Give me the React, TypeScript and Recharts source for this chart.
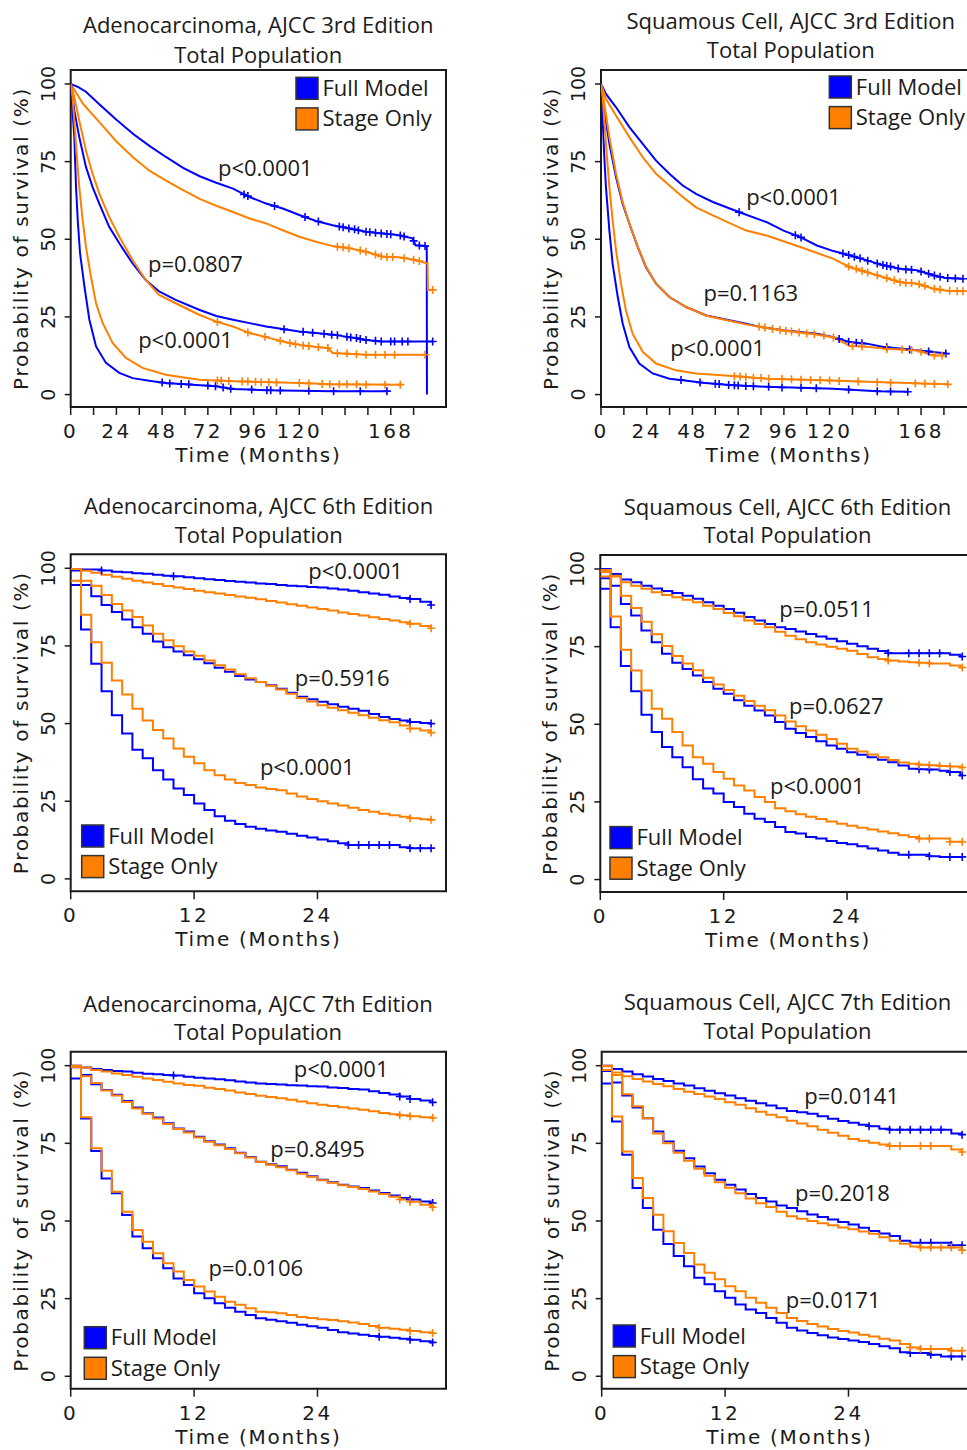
import React from 'react';
import { ComposedChart, Line, Scatter, XAxis, YAxis, ReferenceArea } from 'recharts';

const BLUE = '#0000ff';
const ORANGE = '#ff8000';
const INK = '#1a1a1a';
const TEXT_FONT = '"Open Sans", "Noto Sans", sans-serif';
const AXIS_FONT = '"DejaVu Sans", Verdana, sans-serif';
const TEXT_SIZE = 22;

const PLOT_W = 375.3;
const PLOT_H = 337;
const Y_AXIS_W = 50;
const X_AXIS_H = 60;
const Y_DOMAIN: [number, number] = [-4, 104.5];
const Y_TICKS = [0, 25, 50, 75, 100];
const LONG_TICKS = [0, 12, 24, 36, 48, 60, 72, 84, 96, 108, 120, 132, 144, 156, 168, 180];
const LONG_LABELS = [0, 24, 48, 72, 96, 120, 168];
const SHORT_TICKS = [0, 12, 24];

// ---- Adenocarcinoma, 3rd edition: [months, survival %]
const a3UpperFull = [[0, 100], [4, 99], [8, 97.5], [15, 93.5], [24, 88.5], [33, 83.8], [41.5, 80], [50, 76.5], [59, 73], [67.7, 70.3], [76.4, 68.2], [85.2, 66.3], [93.9, 63.6], [102.6, 61.5], [111.3, 59.9], [120, 57.8], [128.8, 55.9], [137.5, 54.5], [146.2, 53.5], [155, 52.4], [163.7, 51.9], [172.4, 51.3], [179.4, 50.3], [181, 48.1], [186.9, 47.8], [187, 0]];
const a3UpperStage = [[0, 100], [6.6, 93.5], [15.4, 87.5], [24, 81.5], [32.8, 76.3], [41.5, 72], [50.3, 68.8], [59, 65.8], [67.7, 63], [76.4, 60.8], [85.2, 58.8], [93.9, 56.7], [102.6, 55.1], [111.3, 52.9], [120, 50.8], [128.8, 49.2], [137.5, 47.8], [146.2, 47.1], [155, 46], [163.7, 44.4], [172.4, 44.2], [181.2, 43.3], [187.3, 42.2], [187.5, 33.7], [190, 33.7]];
const a3MiddleFull = [[0, 100], [0.3, 99.8], [1.9, 91.4], [4.5, 82.9], [8, 73.3], [11.5, 66.8], [15, 61.5], [20.2, 54], [25.5, 48.7], [32.5, 42.2], [39.4, 36.9], [46.4, 33.2], [55.1, 30.5], [67.4, 27.3], [76.4, 25.3], [85.2, 24.1], [93.9, 23], [102.6, 21.9], [111.3, 21.1], [120, 20.3], [128.8, 19.8], [137.5, 19.3], [146.2, 18.5], [155, 17.6], [163.7, 17.1], [190, 17.1]];
const a3MiddleStage = [[0, 100], [1.9, 95.7], [4.5, 88.2], [8, 78.6], [11.5, 71.1], [15, 64.7], [20.2, 57.2], [25.5, 50.8], [32.5, 43.3], [39.4, 36.9], [46.4, 32.1], [55.1, 29.4], [67.4, 25.7], [76.4, 23.5], [85.2, 21.9], [93.9, 19.8], [102.6, 18.5], [111.3, 17.1], [120, 16], [128.8, 15.3], [135, 15], [137.5, 13.4], [155, 12.8], [186.4, 12.8]];
const a3LowerFull = [[0, 100], [0.7, 93.6], [1.9, 82.9], [2.8, 66.8], [3.7, 56.1], [4.9, 45.5], [7.2, 34.8], [9.8, 24.1], [13.3, 15.5], [18.5, 10.2], [25.5, 7], [32.5, 5.3], [42.9, 4.3], [49.9, 3.7], [63.9, 3.2], [76, 2.7], [85.2, 1.8], [102.6, 1.4], [137.5, 1.1], [166.3, 1.1]];
const a3LowerStage = [[0, 100], [1, 95.7], [1.9, 88.2], [3.1, 77.5], [4.5, 66.8], [6.3, 56.1], [8, 47.6], [10.6, 38], [13.3, 29.4], [16.8, 23], [22, 16.6], [29, 11.8], [37.7, 8.6], [49.9, 6.4], [67.4, 4.8], [76, 4.5], [85.2, 4.3], [120, 3.7], [137.5, 3.3], [173.3, 3.2]];
const a3CensorFull = [[91, 64.4], [93, 63.9], [107, 60.7], [123, 57.2], [130, 55.7], [141, 54.1], [143, 53.9], [146, 53.5], [149, 53.2], [151, 52.9], [155, 52.4], [157, 52.3], [160, 52.1], [163, 51.9], [166, 51.7], [168, 51.6], [173, 51.2], [175, 50.9], [180, 49.5], [183, 48], [186, 47.8],
  [112, 21], [122, 20.2], [127, 19.9], [133, 19.6], [137, 19.3], [140, 19.1], [145, 18.6], [147, 18.4], [150, 18.2], [152, 17.9], [155, 17.6], [160, 17.3], [163, 17.1], [168, 17.1], [170, 17.1], [174, 17.1], [177, 17.1], [190, 17.1],
  [48, 3.9], [52, 3.6], [58, 3.4], [62, 3.3], [72, 2.9], [76, 2.7], [80, 2.3], [84, 1.9], [95, 1.6], [103, 1.4], [105, 1.4], [110, 1.3], [125, 1.2], [138, 1.1], [152, 1.1], [166, 1.1]];
const a3CensorStage = [[140, 47.6], [143, 47.4], [146, 47.1], [152, 46.4], [155, 46], [160, 45.1], [163, 44.5], [166, 44.3], [169, 44.3], [175, 43.9], [180, 43.4], [183, 43], [190, 33.7],
  [77, 23.4], [93, 20], [102, 18.6], [110, 17.3], [115, 16.6], [118, 16.2], [122, 15.8], [125, 15.6], [130, 15.2], [135, 15], [140, 13.3], [145, 13.2], [150, 13], [155, 12.8], [160, 12.8], [165, 12.8], [170, 12.8], [186, 12.8],
  [77, 4.5], [79, 4.5], [83, 4.4], [90, 4.2], [93, 4.2], [97, 4.1], [100, 4], [104, 4], [108, 3.9], [120, 3.7], [125, 3.6], [132, 3.4], [136, 3.3], [141, 3.3], [145, 3.3], [150, 3.3], [155, 3.2], [165, 3.2], [173, 3.2]];

// ---- Squamous cell, 3rd edition
const s3UpperFull = [[0, 100], [2.6, 96.8], [7.9, 92.5], [14.9, 86.1], [21.9, 80.7], [28.9, 75.3], [35.9, 71.1], [42.9, 67.3], [49.9, 64.6], [58.7, 62], [72.7, 58.7], [87, 55.5], [95.8, 52.8], [104.6, 50.7], [113.3, 48], [122, 46.2], [130.8, 44.8], [139.6, 43.2], [148.3, 41.6], [157, 40.5], [165.8, 40], [174.6, 38.4], [181, 37.5], [190.4, 37.3]];
const s3UpperStage = [[0, 100], [2.6, 95.2], [7.9, 89.8], [14.9, 82.9], [21.9, 76.4], [28.9, 71.1], [35.9, 67.3], [42.9, 63.6], [49.9, 60.3], [58.7, 57.7], [76.2, 52.8], [87, 51.2], [104.6, 47.5], [122, 43.7], [130.8, 41], [139.6, 39.4], [148.3, 37.8], [157, 36.2], [165.8, 35.7], [174.6, 34.1], [182, 33.4], [190.4, 33.3]];
const s3MiddleFull = [[0, 100], [1.75, 91.4], [4.4, 80.7], [7.9, 70], [11.4, 61.4], [14.9, 55], [19.3, 47.5], [23.6, 41], [28.9, 35.7], [35.9, 31.4], [44.7, 28.2], [55.2, 25.5], [67.4, 23.9], [76.2, 22.8], [83.5, 21.8], [95.8, 20.7], [113.3, 19.6], [122, 18.5], [130.8, 16.9], [139.6, 16.4], [148.3, 15.3], [157, 14.8], [165.8, 14.3], [181.6, 13.2]];
const s3MiddleStage = [[0, 100], [1.75, 93.6], [4.4, 82.9], [7.9, 71.1], [11.4, 61.9], [14.9, 55], [19.3, 47.5], [23.6, 41.2], [28.9, 35.7], [35.9, 31.4], [44.7, 28.2], [55.2, 25.4], [67.4, 23.8], [76.2, 22.6], [83.5, 21.8], [95.8, 20.6], [113.3, 19.3], [122, 18.4], [130.8, 15.6], [139.6, 15.4], [148.3, 14.8], [157, 14.5], [165.8, 14.2], [174.6, 12.6], [179.9, 12.6]];
const s3LowerFull = [[0, 100], [0.9, 88.2], [1.75, 76.4], [2.6, 66.8], [4.4, 52.8], [6.1, 42.1], [8.8, 31.4], [11.4, 22.8], [14.9, 15.3], [20.1, 10], [27.1, 6.8], [35.9, 5.1], [42.9, 4.6], [53.4, 3.8], [67.4, 3.1], [87, 2.5], [122, 1.9], [145, 1.1], [161.5, 0.9]];
const s3LowerStage = [[0, 100], [0.9, 95.7], [1.75, 88.2], [3, 77.5], [4.4, 66.8], [6.1, 56.1], [7.9, 46.4], [10.5, 35.7], [13.1, 27.1], [16.6, 19.6], [22, 13.7], [28.9, 10], [39.4, 7.8], [49.9, 6.8], [70.9, 5.9], [87, 5.1], [122, 4.5], [139.6, 4.1], [182.5, 3.3]];
const s3CensorFull = [[72.5, 58.7], [102, 51.3], [105, 50.6], [127, 45.4], [130, 44.9], [133, 44.4], [136, 43.9], [140, 43.1], [145, 42.2], [148, 41.7], [150, 41.4], [152, 41.2], [156, 40.6], [160, 40.3], [163, 40.2], [168, 39.6], [172, 38.9], [175, 38.3], [178, 37.9], [182, 37.5], [186, 37.4], [190, 37.3],
  [125, 17.9], [130, 17], [134, 16.7], [137, 16.5], [150, 15.2], [162, 14.5], [172, 13.9], [181, 13.2],
  [42, 4.7], [52, 3.9], [60, 3.5], [62, 3.4], [67, 3.1], [70, 3], [72, 2.9], [76, 2.8], [80, 2.7], [88, 2.5], [95, 2.3], [105, 2.2], [113, 2], [130, 1.6], [145, 1.1], [152, 1], [161, 0.9]];
const s3CensorStage = [[130, 41.2], [134, 40.5], [137, 39.9], [140, 39.3], [145, 38.4], [150, 37.5], [154, 36.8], [157, 36.2], [160, 36], [163, 35.9], [167, 35.5], [170, 35], [175, 34.1], [178, 33.8], [183, 33.4], [187, 33.3], [190, 33.3],
  [83, 21.9], [86, 21.6], [90, 21.2], [94, 20.8], [97, 20.5], [100, 20.3], [104, 20], [108, 19.7], [112, 19.4], [117, 19], [122, 18.4], [132, 15.6], [137, 15.5], [150, 14.7], [158, 14.5], [163, 14.3], [168, 13.8], [175, 12.6], [179, 12.6],
  [70, 5.9], [73, 5.8], [76, 5.6], [80, 5.4], [84, 5.3], [88, 5.1], [95, 5], [100, 4.9], [105, 4.8], [110, 4.7], [115, 4.6], [120, 4.5], [125, 4.4], [135, 4.2], [145, 4], [152, 3.8], [165, 3.6], [170, 3.5], [175, 3.4], [182, 3.3]];

// ---- 6th / 7th editions: survival at each month 0..35
const a6UpperFull = [99.8, 99.6, 99.6, 99.3, 98.9, 98.7, 98.4, 98.2, 97.9, 97.6, 97.4, 97.1, 96.8, 96.5, 96.2, 95.9, 95.7, 95.4, 95.1, 94.9, 94.6, 94.4, 94.2, 94.0, 93.8, 93.5, 93.2, 92.8, 92.3, 91.9, 91.5, 90.9, 90.4, 90.1, 89.2, 88.2];
const a6UpperStage = [99.8, 99.2, 98.6, 97.9, 97.3, 96.6, 96.0, 95.4, 94.9, 94.3, 93.8, 93.3, 92.8, 92.3, 91.9, 91.4, 90.9, 90.5, 90.0, 89.5, 89.0, 88.4, 87.9, 87.4, 86.9, 86.4, 85.8, 85.3, 84.8, 84.2, 83.7, 83.2, 82.6, 82.1, 81.4, 80.7];
const a6MiddleFull = [99.3, 94.6, 91.0, 88.2, 85.9, 83.5, 81.0, 78.9, 76.4, 74.6, 73.2, 72.0, 70.7, 69.4, 68.0, 66.7, 65.3, 64.2, 63.4, 62.3, 61.2, 59.9, 58.6, 57.8, 57.0, 56.2, 55.4, 54.8, 54.1, 53.1, 52.1, 51.5, 51.0, 50.5, 50.2, 50.0];
const a6MiddleStage = [99.8, 96.0, 94.4, 91.4, 88.5, 86.4, 84.3, 81.6, 78.9, 76.8, 74.9, 73.2, 71.8, 70.3, 68.8, 67.4, 65.9, 64.6, 63.4, 62.2, 61.0, 59.6, 58.2, 57.1, 55.9, 55.1, 54.3, 53.5, 52.7, 51.9, 51.1, 50.4, 49.4, 48.4, 47.8, 47.1];
const a6LowerFull = [94.6, 80.3, 69.3, 60.4, 52.7, 46.8, 41.6, 38.8, 35.0, 32.0, 29.1, 27.0, 24.3, 22.2, 20.2, 18.7, 17.7, 16.8, 16.1, 15.6, 15.2, 14.5, 13.9, 13.3, 12.7, 12.1, 11.5, 10.9, 10.9, 10.9, 10.9, 10.9, 10.2, 9.9, 9.9, 9.9];
const a6LowerStage = [96.0, 85.0, 76.2, 69.6, 63.9, 59.4, 54.8, 51.0, 47.9, 45.2, 42.0, 39.3, 37.2, 35.0, 33.4, 32.0, 30.9, 30.2, 29.4, 28.9, 28.5, 27.5, 26.5, 25.7, 25.0, 24.3, 23.6, 22.9, 22.2, 21.6, 21.0, 20.5, 20.0, 19.5, 19.2, 19.0];

const s6UpperFull = [100, 98.4, 96.6, 95.7, 94.6, 93.7, 92.9, 92.3, 91.4, 90.4, 89.3, 88.2, 87.1, 85.9, 84.5, 83.4, 82.3, 81.2, 80.7, 79.9, 79.1, 78.3, 77.5, 76.7, 75.9, 75.1, 74.3, 73.6, 72.9, 72.9, 72.9, 72.9, 72.9, 72.9, 72.4, 71.8];
const s6UpperStage = [99.7, 97.8, 95.7, 94.6, 93.6, 92.5, 91.6, 90.9, 90.1, 89.3, 88.2, 87.1, 85.8, 84.8, 83.4, 82.3, 81.2, 79.8, 78.5, 77.4, 76.4, 75.7, 75.0, 74.3, 73.7, 72.6, 71.6, 71.0, 70.5, 70.2, 70.0, 69.8, 69.6, 69.6, 68.9, 68.3];
const s6MiddleFull = [97.0, 94.6, 88.7, 85.0, 80.2, 76.4, 72.7, 69.8, 67.8, 65.7, 63.6, 61.4, 59.8, 57.7, 56.0, 54.4, 52.8, 50.7, 48.6, 47.2, 45.9, 44.5, 43.2, 42.1, 41.0, 40.2, 39.4, 38.6, 37.8, 36.7, 35.7, 35.5, 35.4, 35.0, 34.6, 33.5];
const s6MiddleStage = [99.0, 97.6, 91.4, 87.4, 83.0, 79.0, 75.2, 72.0, 69.6, 67.4, 65.0, 62.8, 61.0, 59.2, 57.5, 56.0, 54.5, 52.8, 50.9, 49.4, 48.0, 46.6, 45.3, 43.7, 42.1, 41.2, 40.3, 39.4, 38.5, 37.7, 37.3, 37.0, 36.8, 36.6, 36.4, 36.1];
const s6LowerFull = [93.6, 81.2, 68.8, 60.6, 53.1, 47.5, 42.7, 39.4, 36.2, 32.3, 29.3, 27.7, 25.0, 23.4, 21.2, 19.6, 18.5, 16.9, 15.3, 14.8, 13.7, 13.2, 12.4, 11.8, 11.4, 10.7, 10.0, 9.4, 8.6, 8.0, 8.0, 8.0, 7.5, 7.3, 7.3, 7.3];
const s6LowerStage = [97.6, 84.7, 74.0, 67.3, 60.9, 55.0, 51.8, 47.5, 43.2, 39.4, 37.3, 34.6, 32.5, 30.3, 28.7, 26.6, 25.0, 23.0, 22.0, 21.0, 20.2, 19.5, 18.7, 18.0, 17.3, 16.7, 16.1, 15.5, 14.9, 14.3, 13.7, 13.2, 13.2, 13.2, 12.2, 12.2];

const a7UpperFull = [100, 99.4, 98.9, 98.6, 98.3, 98.1, 97.7, 97.4, 97.2, 97.0, 96.8, 96.4, 96.1, 95.9, 95.6, 95.3, 94.9, 94.6, 94.3, 94.1, 93.9, 93.7, 93.6, 93.4, 93.3, 93.0, 92.8, 92.5, 92.3, 91.8, 91.2, 90.7, 90.1, 89.3, 88.8, 88.2];
const a7UpperStage = [100, 99.4, 98.6, 98.1, 97.5, 97.0, 96.4, 95.9, 95.4, 94.8, 94.3, 93.8, 93.5, 92.9, 92.5, 92.0, 91.4, 90.9, 90.3, 89.9, 89.5, 89.0, 88.5, 87.9, 87.4, 87.0, 86.6, 86.2, 85.8, 85.3, 84.8, 84.4, 84.0, 83.7, 83.4, 83.2];
const a7MiddleFull = [99.5, 97.0, 94.0, 92.2, 90.6, 88.6, 86.5, 84.7, 83.3, 81.5, 79.8, 78.8, 77.1, 75.7, 74.6, 73.4, 72.0, 70.6, 69.1, 68.3, 67.6, 66.5, 65.5, 64.4, 63.3, 62.5, 61.7, 61.1, 60.6, 59.8, 59.0, 58.2, 57.4, 56.9, 56.3, 55.8];
const a7MiddleStage = [99.8, 96.6, 94.4, 92.0, 90.4, 88.3, 86.2, 84.5, 83.0, 81.2, 79.6, 78.5, 76.9, 75.5, 74.4, 73.2, 71.8, 70.4, 69.0, 68.1, 67.3, 66.3, 65.2, 64.2, 63.1, 62.3, 61.5, 60.9, 60.3, 59.5, 58.7, 57.8, 56.9, 56.2, 55.2, 54.4];
const a7LowerFull = [95.9, 83.0, 72.5, 63.7, 58.9, 51.9, 45.0, 41.2, 38.0, 34.8, 31.5, 29.4, 26.7, 25.1, 23.5, 22.1, 20.8, 19.7, 18.7, 18.2, 17.7, 17.2, 16.6, 16.1, 15.6, 14.9, 14.2, 13.8, 13.4, 13.0, 12.7, 12.4, 12.1, 11.8, 11.3, 10.9];
const a7LowerStage = [99.6, 83.4, 73.4, 66.2, 59.4, 53.0, 47.1, 43.3, 39.6, 36.4, 33.7, 31.0, 28.9, 27.3, 25.6, 24.0, 23.0, 21.9, 20.8, 20.6, 20.3, 19.7, 19.1, 18.8, 18.4, 18.1, 17.7, 17.3, 16.8, 16.2, 15.6, 15.3, 15.0, 14.6, 14.2, 13.9];

const s7UpperFull = [100, 98.9, 98.1, 97.2, 96.5, 95.7, 95.1, 94.3, 93.6, 92.7, 91.9, 91.1, 90.4, 89.5, 88.7, 87.9, 87.2, 86.3, 85.4, 85.0, 84.5, 83.7, 82.9, 82.2, 81.6, 81.0, 80.5, 79.7, 79.4, 79.4, 79.4, 79.4, 79.4, 79.4, 78.2, 77.8];
const s7UpperStage = [100, 97.8, 96.6, 95.7, 94.9, 94.1, 93.4, 92.5, 91.6, 90.9, 90.1, 89.3, 88.2, 87.4, 86.3, 85.2, 84.2, 83.4, 82.3, 81.4, 80.5, 79.4, 78.4, 77.4, 76.4, 75.8, 75.2, 74.6, 74.1, 74.1, 74.1, 74.1, 74.1, 74.1, 73.0, 72.2];
const s7MiddleFull = [98.3, 94.6, 90.4, 86.5, 83.1, 78.8, 75.6, 72.6, 70.2, 67.5, 65.4, 63.3, 61.7, 60.1, 58.7, 57.4, 56.3, 55.0, 54.2, 53.1, 52.1, 51.3, 50.5, 49.7, 48.9, 47.8, 46.8, 46.0, 45.2, 43.6, 43.0, 43.0, 43.0, 43.0, 42.2, 42.2];
const s7MiddleStage = [99.8, 97.0, 90.8, 86.9, 83.1, 78.2, 75.0, 72.0, 69.4, 66.8, 64.6, 62.5, 60.7, 58.9, 57.2, 55.7, 54.5, 53.0, 51.5, 50.7, 50.0, 49.3, 48.6, 47.9, 47.3, 46.6, 45.9, 44.8, 43.6, 42.7, 41.8, 41.5, 41.5, 41.5, 41.5, 40.6];
const s7LowerFull = [94.3, 82.0, 71.3, 60.6, 54.2, 47.2, 42.6, 38.7, 35.4, 31.7, 29.6, 27.4, 25.3, 23.1, 21.5, 20.4, 18.8, 17.2, 15.6, 14.7, 13.9, 13.2, 12.5, 12.0, 11.5, 11.0, 10.4, 9.7, 9.0, 7.7, 7.5, 7.5, 6.9, 6.4, 6.4, 6.4];
const s7LowerStage = [98.6, 83.6, 72.4, 63.8, 57.4, 52.0, 46.7, 42.9, 39.7, 36.0, 33.3, 31.2, 29.0, 27.4, 25.3, 23.7, 22.1, 20.4, 18.8, 17.8, 16.8, 16.0, 15.2, 14.6, 14.1, 13.4, 12.8, 12.1, 11.5, 10.4, 9.3, 8.8, 8.8, 8.8, 8.2, 8.2];

// censored months (last follow-up point is always censored as well)
const a6Censored = { upperFull: [3, 10, 33], upperStage: [33], middleFull: [33], middleStage: [33], lowerFull: [27, 28, 29, 30, 31, 33, 34], lowerStage: [33] };
const s6Censored = { upperFull: [28, 30, 31, 32, 33], upperStage: [28, 31, 32], middleFull: [31, 32, 34], middleStage: [31, 32, 33, 34], lowerFull: [30, 32, 34], lowerStage: [31, 32, 34] };
const a7Censored = { upperFull: [10, 32, 33], upperStage: [32, 33], middleFull: [33], middleStage: [32, 33], lowerFull: [30, 33], lowerStage: [30, 33] };
const s7Censored = { upperFull: [26, 28, 29, 30, 31, 32, 33], upperStage: [28, 29, 31, 32], middleFull: [31, 32, 34], middleStage: [31, 32, 33, 34], lowerFull: [30, 32, 34], lowerStage: [30, 31, 32, 34] };
const a6End = 35.05;
const s6End = 35.2;
const a7End = 35.2;
const s7End = 35.05;

// log-rank p values: [months, survival %, text]
const a3Pvals: [number, number, string][] = [[77.3, 72.5, 'p<0.0001'], [40.6, 41.7, 'p=0.0807'], [35.4, 17.1, 'p<0.0001']];
const s3Pvals: [number, number, string][] = [[76.2, 63.2, 'p<0.0001'], [53.8, 32.3, 'p=0.1163'], [36.3, 14.8, 'p<0.0001']];
const a6Pvals: [number, number, string][] = [[23.1, 98.7, 'p<0.0001'], [21.8, 64.2, 'p=0.5916'], [18.4, 35.6, 'p<0.0001']];
const s6Pvals: [number, number, string][] = [[17.4, 86.8, 'p=0.0511'], [18.35, 55.5, 'p=0.0627'], [16.5, 29.8, 'p<0.0001']];
const a7Pvals: [number, number, string][] = [[21.7, 98.5, 'p<0.0001'], [19.4, 73, 'p=0.8495'], [13.4, 34.6, 'p=0.0106']];
const s7Pvals: [number, number, string][] = [[19.7, 90, 'p=0.0141'], [18.8, 58.6, 'p=0.2018'], [17.9, 24.3, 'p=0.0171']];

type Pt = { t: number; s: number; label?: string };
interface Curve { data: Pt[]; color: string; step: boolean }
interface PanelCfg {
  left: number; top: number; width: number; height: number;
  boxX: number; boxY: number;
  xMax: number; xTicks: number[]; xLabels: number[];
  curves: Curve[]; censorFull: Pt[]; censorStage: Pt[]; pvals: Pt[];
  title: string; titleX: number; titleY1: number; titleY2: number;
  legendX: number; legendY: number;
}

const pairs = (rows: number[][]): Pt[] => rows.map(([t, s]) => ({ t, s }));
const monthly = (vals: number[], end: number): Pt[] => [...vals.map((s, t) => ({ t, s })), { t: end, s: vals[vals.length - 1] }];
const censorAt = (vals: number[], months: number[], end: number): Pt[] => [...months.map((m) => ({ t: m, s: vals[m] })), { t: end, s: vals[vals.length - 1] }];
const pLabels = (rows: [number, number, string][]): Pt[] => rows.map(([t, s, label]) => ({ t, s, label }));

function smoothPanel(full: number[][][], stage: number[][][]) {
  const curves: Curve[] = [];
  full.forEach((f, i) => {
    curves.push({ data: pairs(f), color: BLUE, step: false });
    curves.push({ data: pairs(stage[i]), color: ORANGE, step: false });
  });
  return curves;
}

function monthlyPanel(groups: [number[], number[]][], cens: Record<string, number[]>, end: number) {
  const keys = ['upper', 'middle', 'lower'];
  const curves: Curve[] = [];
  let censorFull: Pt[] = [];
  let censorStage: Pt[] = [];
  groups.forEach(([f, st], i) => {
    curves.push({ data: monthly(f, end), color: BLUE, step: true });
    curves.push({ data: monthly(st, end), color: ORANGE, step: true });
    censorFull = censorFull.concat(censorAt(f, cens[keys[i] + 'Full'], end));
    censorStage = censorStage.concat(censorAt(st, cens[keys[i] + 'Stage'], end));
  });
  return { curves, censorFull, censorStage };
}

const a6 = monthlyPanel([[a6UpperFull, a6UpperStage], [a6MiddleFull, a6MiddleStage], [a6LowerFull, a6LowerStage]], a6Censored, a6End);
const s6 = monthlyPanel([[s6UpperFull, s6UpperStage], [s6MiddleFull, s6MiddleStage], [s6LowerFull, s6LowerStage]], s6Censored, s6End);
const a7 = monthlyPanel([[a7UpperFull, a7UpperStage], [a7MiddleFull, a7MiddleStage], [a7LowerFull, a7LowerStage]], a7Censored, a7End);
const s7 = monthlyPanel([[s7UpperFull, s7UpperStage], [s7MiddleFull, s7MiddleStage], [s7LowerFull, s7LowerStage]], s7Censored, s7End);

const panels: PanelCfg[] = [
  {
    left: 0, top: 0, width: 470, height: 480, boxX: 70.7, boxY: 70,
    xMax: 197, xTicks: LONG_TICKS, xLabels: LONG_LABELS,
    curves: smoothPanel([a3UpperFull, a3MiddleFull, a3LowerFull], [a3UpperStage, a3MiddleStage, a3LowerStage]),
    censorFull: pairs(a3CensorFull), censorStage: pairs(a3CensorStage), pvals: pLabels(a3Pvals),
    title: 'Adenocarcinoma, AJCC 3rd Edition', titleX: 187.5, titleY1: -36.7, titleY2: -7.3,
    legendX: 225.3, legendY: 7.3,
  },
  {
    left: 500, top: 0, width: 480, height: 480, boxX: 101, boxY: 70,
    xMax: 197, xTicks: LONG_TICKS, xLabels: LONG_LABELS,
    curves: smoothPanel([s3UpperFull, s3MiddleFull, s3LowerFull], [s3UpperStage, s3MiddleStage, s3LowerStage]),
    censorFull: pairs(s3CensorFull), censorStage: pairs(s3CensorStage), pvals: pLabels(s3Pvals),
    title: 'Squamous Cell, AJCC 3rd Edition', titleX: 189.8, titleY1: -40.7, titleY2: -11.7,
    legendX: 228.3, legendY: 6,
  },
  {
    left: 0, top: 485, width: 470, height: 480, boxX: 70.7, boxY: 69.3,
    xMax: 36.5, xTicks: SHORT_TICKS, xLabels: SHORT_TICKS,
    ...a6, pvals: pLabels(a6Pvals),
    title: 'Adenocarcinoma, AJCC 6th Edition', titleX: 188, titleY1: -40.3, titleY2: -11,
    legendX: 11, legendY: 270.7,
  },
  {
    left: 500, top: 485, width: 480, height: 480, boxX: 100.3, boxY: 70,
    xMax: 36.5, xTicks: SHORT_TICKS, xLabels: SHORT_TICKS,
    ...s6, pvals: pLabels(s6Pvals),
    title: 'Squamous Cell, AJCC 6th Edition', titleX: 187.2, titleY1: -39.7, titleY2: -11.7,
    legendX: 9.7, legendY: 271.6,
  },
  {
    left: 0, top: 980, width: 470, height: 470, boxX: 70.7, boxY: 71.7,
    xMax: 36.5, xTicks: SHORT_TICKS, xLabels: SHORT_TICKS,
    ...a7, pvals: pLabels(a7Pvals),
    title: 'Adenocarcinoma, AJCC 7th Edition', titleX: 187.3, titleY1: -40, titleY2: -11.7,
    legendX: 13.6, legendY: 275,
  },
  {
    left: 500, top: 980, width: 480, height: 470, boxX: 101.7, boxY: 71.7,
    xMax: 36.5, xTicks: SHORT_TICKS, xLabels: SHORT_TICKS,
    ...s7, pvals: pLabels(s7Pvals),
    title: 'Squamous Cell, AJCC 7th Edition', titleX: 185.8, titleY1: -41.7, titleY2: -12.4,
    legendX: 11.6, legendY: 273.3,
  },
];

const xTick = (labels: number[]) => (p: any) =>
  labels.includes(p.payload.value) ? (
    <text x={p.x} y={p.y + 23} textAnchor="middle" fontFamily={AXIS_FONT} fontSize={20} letterSpacing={2.5} fill={INK}>
      {p.payload.value}
    </text>
  ) : (
    <g />
  );

const yTick = (p: any) => (
  <text
    x={p.x - 10}
    y={p.y}
    transform={`rotate(-90 ${p.x - 10} ${p.y})`}
    textAnchor="middle"
    fontFamily={AXIS_FONT}
    fontSize={19}
    fill={INK}
  >
    {p.payload.value}
  </text>
);

// censoring marks
const plus = (color: string) => (p: any) => (
  <path d={`M${p.cx - 4},${p.cy}h8M${p.cx},${p.cy - 4}v8`} stroke={color} strokeWidth={1.6} fill="none" />
);

const pText = (p: any) => (
  <text x={p.cx} y={p.cy + 7} fontFamily={TEXT_FONT} fontSize={TEXT_SIZE} fill={INK}>
    {p.payload.label}
  </text>
);

function Panel({ cfg }: { cfg: PanelCfg }) {
  const plotBottom = cfg.boxY + PLOT_H;
  const margin = {
    top: cfg.boxY,
    left: cfg.boxX - Y_AXIS_W,
    right: cfg.width - cfg.boxX - PLOT_W,
    bottom: cfg.height - plotBottom - X_AXIS_H,
  };
  const midX = cfg.boxX + PLOT_W / 2;
  const midY = cfg.boxY + PLOT_H / 2;
  const yTitleX = cfg.boxX - 43;
  const lx = cfg.boxX + cfg.legendX;
  const ly = cfg.boxY + cfg.legendY;
  const legendRows = [
    { name: 'Full Model', color: BLUE },
    { name: 'Stage Only', color: ORANGE },
  ];

  return (
    <div style={{ position: 'absolute', left: cfg.left, top: cfg.top, width: cfg.width, height: cfg.height }}>
      <ComposedChart width={cfg.width} height={cfg.height} margin={margin}>
        <XAxis
          type="number"
          dataKey="t"
          domain={[0, cfg.xMax]}
          ticks={cfg.xTicks}
          interval={0}
          allowDataOverflow
          axisLine={false}
          tickSize={8}
          tickMargin={0}
          height={X_AXIS_H}
          tickLine={{ stroke: INK, strokeWidth: 1.5 }}
          tick={xTick(cfg.xLabels)}
        />
        <YAxis
          type="number"
          domain={Y_DOMAIN}
          ticks={Y_TICKS}
          interval={0}
          allowDataOverflow
          axisLine={false}
          tickSize={6}
          tickMargin={0}
          width={Y_AXIS_W}
          tickLine={{ stroke: INK, strokeWidth: 1.5 }}
          tick={yTick}
        />
        <ReferenceArea x1={0} x2={cfg.xMax} y1={Y_DOMAIN[0]} y2={Y_DOMAIN[1]} fill="none" stroke={INK} strokeWidth={2} ifOverflow="visible" />
        {cfg.curves.map((c, i) => (
          <Line
            key={i}
            data={c.data}
            dataKey="s"
            type={c.step ? 'stepAfter' : 'linear'}
            stroke={c.color}
            strokeWidth={2}
            dot={false}
            activeDot={false}
            isAnimationActive={false}
          />
        ))}
        <Scatter data={cfg.censorFull} dataKey="s" shape={plus(BLUE)} isAnimationActive={false} />
        <Scatter data={cfg.censorStage} dataKey="s" shape={plus(ORANGE)} isAnimationActive={false} />
        <Scatter data={cfg.pvals} dataKey="s" shape={pText} isAnimationActive={false} />
      </ComposedChart>
      <svg
        width={cfg.width}
        height={cfg.height}
        style={{ position: 'absolute', left: 0, top: 0, overflow: 'visible', pointerEvents: 'none' }}
      >
        <text x={cfg.boxX + cfg.titleX} y={cfg.boxY + cfg.titleY1} textAnchor="middle" fontFamily={TEXT_FONT} fontSize={TEXT_SIZE} fill={INK}>
          {cfg.title}
        </text>
        <text x={cfg.boxX + cfg.titleX} y={cfg.boxY + cfg.titleY2} textAnchor="middle" fontFamily={TEXT_FONT} fontSize={TEXT_SIZE} fill={INK}>
          Total Population
        </text>
        <text
          x={yTitleX}
          y={midY}
          transform={`rotate(-90 ${yTitleX} ${midY})`}
          textAnchor="middle"
          fontFamily={AXIS_FONT}
          fontSize={20}
          letterSpacing={1.7}
          fill={INK}
        >
          Probability of survival (%)
        </text>
        <text x={midX} y={plotBottom + 55} textAnchor="middle" fontFamily={AXIS_FONT} fontSize={20} letterSpacing={1.7} fill={INK}>
          Time (Months)
        </text>
        {legendRows.map((row, i) => (
          <g key={row.name}>
            <rect x={lx} y={ly + i * 30.6} width={22} height={22} fill={row.color} stroke="#333" strokeWidth={1.5} />
            <text x={lx + 26.5} y={ly + i * 30.6 + 18.5} fontFamily={TEXT_FONT} fontSize={TEXT_SIZE} fill={INK}>
              {row.name}
            </text>
          </g>
        ))}
      </svg>
    </div>
  );
}

export default function App() {
  return (
    <div style={{ position: 'absolute', left: 0, top: 0, width: 967, height: 1450, overflow: 'hidden', background: '#fff' }}>
      {panels.map((cfg, i) => (
        <Panel key={i} cfg={cfg} />
      ))}
    </div>
  );
}
